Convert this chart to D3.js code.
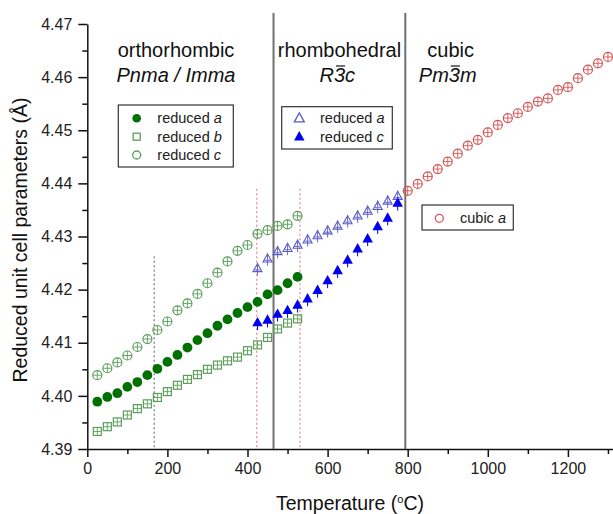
<!DOCTYPE html>
<html>
<head>
<meta charset="utf-8">
<script src="https://cdn.jsdelivr.net/npm/d3@7"></script>
<style>
body { margin: 0; background: #fff; }
svg { font-family: "Liberation Sans", Arial, sans-serif; display: block; }
</style>
</head>
<body>
<svg id="svg"></svg>
<script>
'use strict';

// ================================= data ======================================
var orthoT = [25, 50, 75, 100, 125, 150, 175, 200, 225, 250, 275, 300, 325, 350, 375, 400, 425, 450, 475, 500, 525]
var orthoA = [4.3989, 4.3998, 4.4005, 4.4017, 4.4026, 4.4039, 4.4051, 4.4064, 4.4077, 4.4091, 4.4105, 4.4118, 4.4132, 4.4144, 4.4156, 4.4167, 4.4177, 4.4191, 4.4199, 4.4212, 4.4224]
var orthoB = [4.3933, 4.3942, 4.3951, 4.3964, 4.3976, 4.3985, 4.3997, 4.4008, 4.4020, 4.4031, 4.4040, 4.4050, 4.4058, 4.4066, 4.4073, 4.4085, 4.4096, 4.4110, 4.4126, 4.4137, 4.4145]
var orthoC = [4.4039, 4.4052, 4.4063, 4.4076, 4.4092, 4.4107, 4.4124, 4.4140, 4.4161, 4.4174, 4.4192, 4.4212, 4.4232, 4.4253, 4.4273, 4.4284, 4.4305, 4.4312, 4.4320, 4.4323, 4.4339]

var rhomboT = [425, 450, 475, 500, 525, 550, 575, 600, 625, 650, 675, 700, 725, 750, 775]
var rhomboA = [4.4240, 4.4258, 4.4272, 4.4278, 4.4284, 4.4294, 4.4302, 4.4311, 4.4320, 4.4330, 4.4339, 4.4348, 4.4357, 4.4367, 4.4376]
var rhomboC = [4.4138, 4.4143, 4.4154, 4.4161, 4.4171, 4.4183, 4.4199, 4.4217, 4.4236, 4.4256, 4.4277, 4.4296, 4.4319, 4.4335, 4.4363]

var cubicT = [800, 825, 850, 875, 900, 925, 950, 975, 1000, 1025, 1050, 1075, 1100, 1125, 1150, 1175, 1200, 1225, 1250, 1275, 1300]
var cubicA = [4.4386, 4.4399, 4.4413, 4.4427, 4.4441, 4.4456, 4.4471, 4.4482, 4.4496, 4.4510, 4.4523, 4.4532, 4.4544, 4.4554, 4.4560, 4.4576, 4.4581, 4.4598, 4.4614, 4.4626, 4.4638]

var phaseBoundaries = [465, 794]          // solid lines
var dottedT = [167, 423, 531]             // dotted markers
var dottedTop = [4.4263, 4.4390, 4.4390]
var xTicks = [0, 200, 400, 600, 800, 1000, 1200]
var xMinor = [100, 300, 500, 700, 900, 1100, 1300]
var yTicks = [4.39, 4.40, 4.41, 4.42, 4.43, 4.44, 4.45, 4.46, 4.47]
var yMinor = [4.395, 4.405, 4.415, 4.425, 4.435, 4.445, 4.455, 4.465]

// ================================= setup ======================================
var width = 613;
var height = 514;

var svg = d3.select("#svg")
    .attr("width", width)
    .attr("height", height)

var x = d3.scaleLinear().domain([0, 1312.6]).range([87.3, 613])
var y = d3.scaleLinear().domain([4.39, 4.47]).range([449, 24])

var green = "#5a9f5a"
var darkGreen = "#007000"
var blue = "#0000ee"
var lightBlue = "#5c5cc8"
var red = "#d65555"

// ================================= axes ======================================
var yMinorAxis = svg.append("g")
    .attr("transform", "translate(87.3,0)")
    .call(d3.axisLeft(y).tickValues(yMinor).tickSize(5).tickFormat(""))
yMinorAxis.select(".domain").remove()

var yAxis = svg.append("g")
    .attr("transform", "translate(87.3,0)")
    .call(d3.axisLeft(y).tickValues(yTicks).tickSize(9).tickSizeOuter(0).tickPadding(6).tickFormat(d3.format(".2f")))
yAxis.selectAll("text").style("font-size", "16px").attr("fill", "#222")

var xMinorAxis = svg.append("g")
    .attr("transform", "translate(0,449)")
    .call(d3.axisBottom(x).tickValues(xMinor).tickSize(5).tickFormat(""))
xMinorAxis.select(".domain").remove()

var xAxis = svg.append("g")
    .attr("transform", "translate(0,449)")
    .call(d3.axisBottom(x).tickValues(xTicks).tickSize(8).tickSizeOuter(0).tickPadding(6).tickFormat(d3.format("d")))
xAxis.selectAll("text").style("font-size", "16px").attr("fill", "#222")

svg.selectAll(".domain, .tick line").attr("stroke", "#111").attr("stroke-width", 1.5)

svg.append("text")
    .attr("transform", "translate(27,240) rotate(-90)")
    .attr("text-anchor", "middle")
    .style("font-size", "19.5px")
    .attr("fill", "#111")
    .text("Reduced unit cell parameters (Å)")

var xlab = svg.append("text")
    .attr("x", 350)
    .attr("y", 510)
    .attr("text-anchor", "middle")
    .style("font-size", "19.5px")
    .attr("fill", "#111")
xlab.append("tspan").text("Temperature (")
xlab.append("tspan").attr("dy", -7).style("font-size", "11px").text("o")
xlab.append("tspan").attr("dy", 7).text("C)")

// ================================= lines ======================================
svg.append("g").selectAll("line")
    .data(dottedT)
    .join("line")
    .attr("x1", d => x(d)).attr("x2", d => x(d))
    .attr("y1", (d, i) => y(dottedTop[i])).attr("y2", y(4.39))
    .attr("stroke", (d, i) => i == 0 ? "#777" : "#e58a8a")
    .attr("stroke-width", 1.2)
    .attr("stroke-dasharray", "2,2.5")

svg.append("g").selectAll("line")
    .data(phaseBoundaries)
    .join("line")
    .attr("x1", d => x(d)).attr("x2", d => x(d))
    .attr("y1", 13).attr("y2", y(4.39))
    .attr("stroke", "#707070")
    .attr("stroke-width", 2)

// ================================= markers ======================================
function crossCircle(g, r, col) {
    g.append("circle").attr("r", r).attr("fill", "none").attr("stroke", col).attr("stroke-width", 1.2)
    g.append("path").attr("d", `M${-r},0H${r}M0,${-r}V${r}`).attr("stroke", col).attr("stroke-width", 0.9)
}
function crossSquare(g, s, col) {
    g.append("rect").attr("x", -s).attr("y", -s).attr("width", 2 * s).attr("height", 2 * s)
        .attr("fill", "none").attr("stroke", col).attr("stroke-width", 1.2)
    g.append("path").attr("d", `M${-s},0H${s}M0,${-s}V${s}`).attr("stroke", col).attr("stroke-width", 0.9)
}
function triPath(s) {
    let h = s * 0.9
    return `M0,${-h * 0.6}L${s / 2},${h * 0.4}L${-s / 2},${h * 0.4}Z`
}

function drawSeries(xs, ys, kind, col) {
    let pts = xs.map((t, i) => [t, ys[i]])
    let g = svg.append("g").selectAll("g")
        .data(pts)
        .join("g")
        .attr("transform", d => `translate(${x(d[0])},${y(d[1])})`)
    g.each(function () {
        let s = d3.select(this)
        if (kind == "dot") {
            s.append("circle").attr("r", 4.9).attr("fill", col)
        } else if (kind == "ocircle") {
            crossCircle(s, 4.5, col)
        } else if (kind == "osquare") {
            crossSquare(s, 4, col)
        } else if (kind == "otri") {
            s.append("path").attr("d", triPath(9)).attr("fill", "none").attr("stroke", col).attr("stroke-width", 1.1)
            s.append("path").attr("d", "M0,-5.5V7M-3,1.5H3").attr("stroke", col).attr("stroke-width", 0.9)
        } else if (kind == "ftri") {
            s.append("path").attr("d", "M0,3V7.5").attr("stroke", col).attr("stroke-width", 1)
            s.append("path").attr("d", triPath(10.5)).attr("fill", col)
        }
    })
}

drawSeries(orthoT, orthoC, "ocircle", green)
drawSeries(orthoT, orthoB, "osquare", green)
drawSeries(orthoT, orthoA, "dot", darkGreen)
drawSeries(rhomboT, rhomboA, "otri", lightBlue)
drawSeries(rhomboT, rhomboC, "ftri", blue)
drawSeries(cubicT, cubicA, "ocircle", red)

// ================================= phase labels ======================================
function label(cx, by, txt, italic) {
    return svg.append("text")
        .attr("x", cx).attr("y", by)
        .attr("text-anchor", "middle")
        .style("font-size", "20px")
        .style("font-style", italic ? "italic" : "normal")
        .attr("fill", "#111")
        .text(txt)
}
label(176, 57, "orthorhombic", false)
label(176, 82, "Pnma / Imma", true)
label(339.5, 57, "rhombohedral", false)
label(450.7, 57, "cubic", false)

// overlined 3 in the space group symbols
function barLabel(cx, by, txt, barIndex) {
    let t = label(cx, by, txt, true)
    let box = t.node().getExtentOfChar(barIndex)
    svg.append("line")
        .attr("x1", box.x + 2).attr("x2", box.x + box.width)
        .attr("y1", by - 16).attr("y2", by - 16)
        .attr("stroke", "#111").attr("stroke-width", 1.2)
}
barLabel(337.3, 82, "R3c", 1)
barLabel(447.7, 82, "Pm3m", 2)

// ================================= legends ======================================
function legend(bx, by, bw, bh, entries, symX, txtX) {
    svg.append("rect")
        .attr("x", bx).attr("y", by).attr("width", bw).attr("height", bh)
        .attr("fill", "white").attr("stroke", "#333").attr("stroke-width", 1.2)
    entries.forEach((e) => {
        let g = svg.append("g").attr("transform", `translate(${symX},${e.y})`)
        if (e.kind == "dot") g.append("circle").attr("r", 4.3).attr("fill", e.col)
        if (e.kind == "ocircle") g.append("circle").attr("r", 4).attr("fill", "none").attr("stroke", e.col).attr("stroke-width", 1.3)
        if (e.kind == "osquare") g.append("rect").attr("x", -3.5).attr("y", -3.5).attr("width", 7).attr("height", 7).attr("fill", "none").attr("stroke", e.col).attr("stroke-width", 1.3)
        if (e.kind == "otri") g.append("path").attr("d", triPath(10)).attr("fill", "none").attr("stroke", e.col).attr("stroke-width", 1.3)
        if (e.kind == "ftri") g.append("path").attr("d", triPath(10.5)).attr("fill", e.col)
        let t = svg.append("text")
            .attr("x", txtX).attr("y", e.y + 5)
            .style("font-size", "14.5px")
            .attr("fill", "#222")
        t.append("tspan").text(e.label + " ")
        t.append("tspan").style("font-style", "italic").text(e.it)
    })
}

legend(118.3, 105, 115, 62, [
    { y: 118.3, kind: "dot", col: darkGreen, label: "reduced", it: "a" },
    { y: 136.7, kind: "osquare", col: green, label: "reduced", it: "b" },
    { y: 155, kind: "ocircle", col: green, label: "reduced", it: "c" }
], 136.7, 157.3)

legend(281.7, 106.7, 110.6, 42.3, [
    { y: 118.3, kind: "otri", col: lightBlue, label: "reduced", it: "a" },
    { y: 136.7, kind: "ftri", col: blue, label: "reduced", it: "c" }
], 299.3, 320)

legend(422, 205, 91.3, 25, [
    { y: 218.3, kind: "ocircle", col: red, label: "cubic", it: "a" }
], 439.3, 460)
</script>
</body>
</html>
